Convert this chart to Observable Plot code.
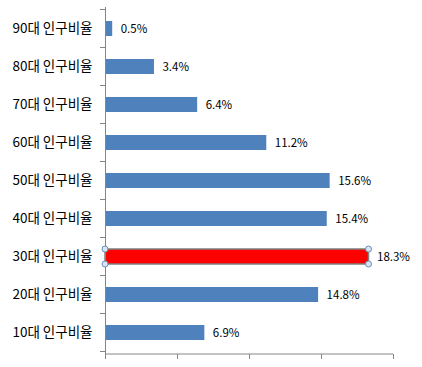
<!DOCTYPE html>
<html><head><meta charset="utf-8">
<script src="https://cdn.jsdelivr.net/npm/d3@7"></script>
<script src="https://cdn.jsdelivr.net/npm/@observablehq/plot@0.6"></script>
<style>body{margin:0;background:#fff}</style>
</head><body><div id="chart"></div>
<script>
const categories = ["90대 인구비율","80대 인구비율","70대 인구비율","60대 인구비율","50대 인구비율","40대 인구비율","30대 인구비율","20대 인구비율","10대 인구비율"];
const values = [0.5, 3.4, 6.4, 11.2, 15.6, 15.4, 18.3, 14.8, 6.9];
const highlighted = "30대 인구비율";
const xTicks = [0, 5, 10, 15, 20];

const data = categories.map((c, i) => ({cat: c, v: values[i], hi: c === highlighted}));
const axisColor = "#868686";

function extras(index, scales, vals, dims) {
  const y = scales.y, x = scales.x;
  const step = y.step(), bw = y.bandwidth();
  const pad = (step - bw) / 2;
  const g = d3.create("svg:g");
  const x0 = x(0);
  g.append("line").attr("x1", x0).attr("x2", dims.width - dims.marginRight)
    .attr("y1", dims.height - dims.marginBottom).attr("y2", dims.height - dims.marginBottom)
    .attr("stroke", axisColor);
  const bounds = categories.map(c => y(c) - pad);
  bounds.push(y(categories[categories.length - 1]) + bw + pad);
  for (const b of bounds) {
    g.append("line").attr("x1", x0 - 5).attr("x2", x0).attr("y1", b).attr("y2", b).attr("stroke", axisColor);
  }
  for (const d of data.filter(d => d.hi)) {
    const top = y(d.cat), bot = y(d.cat) + bw;
    for (const px of [x(0), x(d.v)]) for (const py of [top, bot]) {
      g.append("circle").attr("cx", px).attr("cy", py).attr("r", 3)
        .attr("fill", "#d6e6f5").attr("stroke", "#6d90b5").attr("stroke-width", 1);
    }
  }
  return g.node();
}

const chart = Plot.plot({
  width: 422, height: 367,
  marginLeft: 105, marginRight: 29, marginTop: 7, marginBottom: 13,
  style: {fontFamily: "'Noto Sans CJK KR', 'Noto Sans', sans-serif", color: "#000", background: "#fff"},
  x: {domain: [0, 20], axis: null},
  y: {domain: categories, paddingInner: 0.61, paddingOuter: 0.305, axis: null},
  marks: [
    Plot.axisY({tickSize: 0, tickPadding: 13, fontSize: 13.5, label: null}),
    Plot.axisX({ticks: xTicks, tickSize: 5, tickFormat: () => "", stroke: axisColor, label: null}),
    Plot.barX(data, {x: "v", y: "cat", fill: d => d.hi ? "#FF0000" : "#4F81BD",
      stroke: d => d.hi ? "#7f7f7f" : "none", strokeWidth: 1.5}),
    Plot.ruleX([0], {stroke: axisColor}),
    Plot.text(data, {x: "v", y: "cat", text: d => d.v.toFixed(1) + "%", dx: 8, textAnchor: "start", fontSize: 11.5, fill: "#000"}),
    extras
  ]
});
document.getElementById("chart").appendChild(chart);
</script>
</body></html>
